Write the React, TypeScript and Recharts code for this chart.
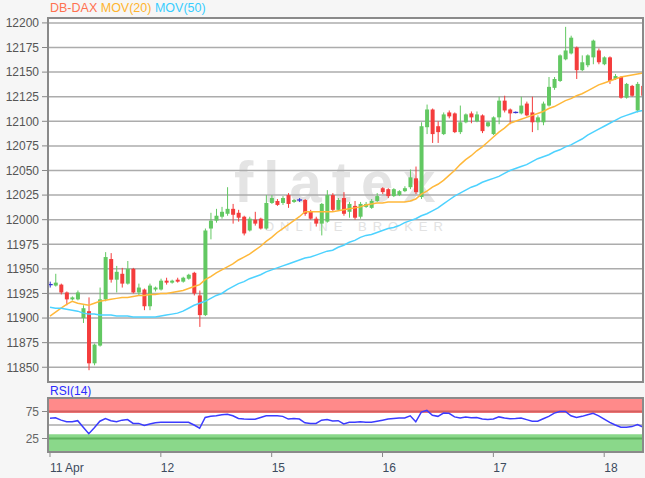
import React from 'react';
import {
  ComposedChart,
  LineChart,
  Bar,
  Line,
  XAxis,
  YAxis,
  CartesianGrid,
  ReferenceArea,
  ReferenceLine,
} from 'recharts';

const openP = [
  11934, 11933, 11934, 11926, 11919, 11919, 11900, 11907, 11854, 11872,
  11919, 11960, 11939, 11945, 11935, 11950, 11926, 11929, 11912, 11929,
  11929, 11938, 11936, 11939, 11937, 11940, 11946, 11923, 11903, 11991,
  11999, 12003, 12006, 12011, 12007, 12003, 11989, 12000, 12001, 11991,
  12017, 12019, 12017, 12025, 12018, 12020, 12020, 12008, 12001, 11996,
  11998, 12025, 12010, 12022, 12008, 12014, 12003, 12013, 12012, 12019,
  12032, 12031, 12024, 12025, 12029, 12033, 12042, 12023, 12094, 12112,
  12095, 12087, 12109, 12108, 12089, 12099, 12108, 12100, 12106, 12095,
  12087, 12104, 12121, 12112, 12109, 12108, 12118, 12109, 12099, 12099,
  12116, 12134, 12141, 12163, 12169, 12175, 12152, 12157, 12165, 12172,
  12158, 12165, 12143, 12145, 12124, 12136, 12111, 12136,
];
const highP = [
  11937, 11945, 11935, 11927, 11922, 11928, 11913, 11921, 11874, 11931,
  11967, 11966, 11953, 11951, 11958, 11951, 11935, 11930, 11935, 11932,
  11940, 11941, 11939, 11941, 11942, 11945, 11947, 11928, 11991, 12007,
  12011, 12013, 12033, 12016, 12010, 12004, 12003, 12008, 12002, 12025,
  12025, 12021, 12024, 12027, 12021, 12022, 12021, 12010, 12003, 12017,
  12030, 12027, 12022, 12028, 12018, 12019, 12018, 12018, 12021, 12027,
  12033, 12032, 12032, 12030, 12034, 12051, 12054, 12099, 12117, 12113,
  12100, 12109, 12111, 12109, 12116, 12108, 12110, 12110, 12107, 12100,
  12105, 12125, 12126, 12113, 12110, 12125, 12120, 12125, 12106, 12120,
  12145, 12145, 12168, 12196, 12187, 12176, 12167, 12168, 12183, 12174,
  12166, 12166, 12148, 12146, 12139, 12137, 12140, 12148,
];
const lowP = [
  11931, 11932, 11924, 11913, 11918, 11918, 11895, 11847, 11852, 11871,
  11917, 11936, 11926, 11931, 11934, 11925, 11923, 11908, 11908, 11927,
  11928, 11934, 11935, 11936, 11936, 11939, 11923, 11891, 11902, 11980,
  11997, 12001, 12004, 11996, 11998, 11984, 11988, 11994, 11990, 11990,
  12016, 12014, 12015, 12012, 12017, 12018, 12004, 12000, 11993, 11984,
  11997, 12008, 12009, 12004, 12002, 12000, 12001, 12012, 12011, 12018,
  12026, 12022, 12023, 12024, 12028, 12031, 12026, 12021, 12087, 12078,
  12078, 12086, 12103, 12088, 12087, 12098, 12098, 12099, 12088, 12094,
  12086, 12097, 12109, 12097, 12108, 12107, 12105, 12089, 12091, 12096,
  12115, 12132, 12140, 12162, 12168, 12143, 12151, 12155, 12158, 12158,
  12157, 12138, 12142, 12123, 12123, 12125, 12109, 12125,
];
const closeP = [
  11934, 11936, 11926, 11919, 11921, 11926, 11910, 11854, 11873, 11919,
  11962, 11939, 11947, 11935, 11950, 11926, 11931, 11912, 11933, 11931,
  11938, 11936, 11938, 11937, 11941, 11944, 11925, 11903, 11989, 11999,
  12004, 12008, 12011, 12005, 12002, 11986, 12001, 11996, 11991, 12017,
  12022, 12015, 12022, 12016, 12020, 12020, 12006, 12001, 11996, 12016,
  12025, 12010, 12020, 12006, 12016, 12002, 12016, 12016, 12019, 12024,
  12028, 12024, 12031, 12029, 12032, 12043, 12028, 12095, 12112, 12087,
  12089, 12107, 12105, 12089, 12099, 12107, 12104, 12107, 12090, 12099,
  12104, 12121, 12111, 12108, 12109, 12116, 12106, 12099, 12104, 12118,
  12135, 12143, 12167, 12172, 12185, 12152, 12160, 12167, 12182, 12160,
  12165, 12141, 12146, 12124, 12138, 12126, 12138, 12126,
];
const ma20 = [
  11902, 11906, 11910, 11914, 11917, 11915, 11914, 11913, 11915, 11917,
  11918, 11919, 11920, 11921, 11921, 11922, 11923, 11923, 11924, 11924,
  11925, 11925, 11926, 11927, 11928, 11930, 11932, 11934, 11939, 11942,
  11946, 11949, 11952, 11955, 11959, 11962, 11965, 11969, 11973, 11978,
  11982, 11987, 11991, 11995, 11999, 12003, 12008, 12008, 12008, 12008,
  12008, 12008, 12009, 12010, 12011, 12012, 12013, 12015, 12016, 12017,
  12017, 12018, 12018, 12018, 12018, 12019, 12021, 12026, 12029, 12033,
  12036, 12040, 12045, 12050, 12056, 12061, 12065, 12070, 12074, 12079,
  12084, 12089, 12093, 12098, 12100, 12102, 12104, 12106, 12108, 12110,
  12113, 12115, 12118, 12121, 12123, 12126, 12128, 12131, 12134, 12137,
  12139, 12141, 12143, 12145, 12146, 12147, 12148, 12149,
];
const ma50 = [
  11911, 11910, 11910, 11909, 11908, 11907, 11905, 11904, 11904, 11903,
  11903, 11903, 11902, 11902, 11902, 11901, 11901, 11901, 11901, 11901,
  11902, 11903, 11904, 11905, 11907, 11910, 11913, 11915, 11917, 11920,
  11923, 11925, 11929, 11932, 11935, 11937, 11940, 11942, 11944, 11947,
  11949, 11951, 11953, 11955, 11957, 11959, 11961, 11962, 11964, 11966,
  11968, 11969, 11972, 11974, 11977, 11979, 11982, 11984, 11985, 11987,
  11989, 11991, 11992, 11994, 11997, 11999, 12001, 12004, 12006, 12009,
  12012, 12016, 12020, 12024, 12027, 12030, 12033, 12035, 12038, 12040,
  12042, 12044, 12047, 12050, 12052, 12054, 12056, 12059, 12062, 12064,
  12066, 12069, 12071, 12074, 12076, 12079, 12082, 12086, 12089, 12092,
  12095, 12098, 12101, 12104, 12106, 12108, 12110, 12111,
];
const rsi14 = [
  62.5, 63.5, 59, 56, 56, 58, 46, 34, 45, 57,
  62, 58, 56, 59, 60, 53, 53, 49, 52, 54,
  55, 55, 55, 55, 55, 55, 50, 44, 64, 66,
  67, 69, 70, 67, 62, 61, 60.5, 60.7, 64, 67,
  67, 67, 66, 61, 62, 61, 54, 53, 53, 59,
  60, 57.5, 58, 52, 55, 55, 56, 55, 55, 57,
  59, 61, 62, 63, 63, 67, 56, 74, 77, 68,
  66, 72, 71.6, 65, 63, 65, 63.5, 64, 61, 60,
  61, 65, 63, 61.5, 62, 63, 60, 57, 57, 61.5,
  66, 72, 75, 75, 67, 64, 66, 69, 71.6, 67,
  61, 55, 50, 46, 46, 47, 51, 46,
];

const dayTicks = [0, 20, 40, 60, 80, 100];
const dayLabels = ['11 Apr', '12', '15', '16', '17', '18'];
const priceTicks = [
  11850, 11875, 11900, 11925, 11950, 11975, 12000, 12025, 12050, 12075,
  12100, 12125, 12150, 12175, 12200,
];
const rsiTicks = [25, 75];

const data = openP.map((o, i) => ({
  i,
  o,
  h: highP[i],
  l: lowP[i],
  c: closeP[i],
  range: [lowP[i], highP[i]],
  ma20: ma20[i],
  ma50: ma50[i],
  rsi: rsi14[i],
}));

const FONT = 'Liberation Sans, Arial, sans-serif';
const X_DOMAIN: [number, number] = [-0.36, 107];

const Candle = (props: any) => {
  const { x, y, width, height, index } = props;
  if (x == null || y == null || height == null) return null;
  const d = props.payload && props.payload.o != null ? props.payload : data[index];
  const top = Math.min(y, y + height);
  const hgt = Math.abs(height);
  const ratio = d.h === d.l ? 0 : hgt / (d.h - d.l);
  const cx = x + width / 2;
  const yO = top + (d.h - d.o) * ratio;
  const yC = top + (d.h - d.c) * ratio;
  const doji = d.o === d.c;
  const color = doji ? '#3232d2' : d.c > d.o ? '#62c862' : '#f43c3c';
  const bTop = Math.min(yO, yC);
  const bH = Math.max(Math.abs(yO - yC), 1);
  return (
    <g>
      <line x1={cx} x2={cx} y1={top} y2={top + hgt} stroke={color} strokeWidth={1} />
      {doji ? (
        <line x1={x - 0.5} x2={x + width + 0.5} y1={yO} y2={yO} stroke={color} strokeWidth={1.3} />
      ) : (
        <rect x={x} y={bTop} width={width} height={bH} fill={color} />
      )}
    </g>
  );
};

const XTick = (props: any) => {
  const { x, y, payload } = props;
  const idx = dayTicks.indexOf(payload.value);
  return (
    <text x={x} y={y} dy={13} textAnchor="start" fill="#3c4b5e" fontSize={12} fontFamily={FONT}>
      {idx >= 0 ? dayLabels[idx] : ''}
    </text>
  );
};

export default function App() {
  return (
    <div style={{ position: 'absolute', left: 0, top: 0, width: 645, height: 478, background: '#f6f6f6', overflow: 'hidden', fontFamily: FONT }}>
      {/* panel backgrounds */}
      <div style={{ position: 'absolute', left: 48, top: 18, width: 595, height: 364, background: '#ffffff' }} />
      <div style={{ position: 'absolute', left: 48, top: 398, width: 595, height: 54, background: '#ffffff' }} />
      {/* watermark */}
      <div style={{ position: 'absolute', left: 234, top: 149, fontSize: 58, fontWeight: 700, letterSpacing: 10, color: '#e4e4e4', fontFamily: FONT, lineHeight: '66px', whiteSpace: 'nowrap' }}>flatex</div>
      <div style={{ position: 'absolute', left: 264, top: 219, fontSize: 13, letterSpacing: 6, color: '#e2e2e2', fontFamily: FONT, lineHeight: '15px', whiteSpace: 'nowrap' }}>ONLINE BROKER</div>

      {/* legend */}
      <div style={{ position: 'absolute', left: 50, top: 1, fontSize: 12.5, lineHeight: '14px', whiteSpace: 'nowrap', fontFamily: FONT }}>
        <span style={{ color: '#ff7150' }}>DB-DAX</span>{' '}
        <span style={{ color: '#ffb42e' }}>MOV(20)</span>{' '}
        <span style={{ color: '#38cdff' }}>MOV(50)</span>
      </div>
      <div style={{ position: 'absolute', left: 50, top: 384, fontSize: 12, lineHeight: '14px', color: '#2b2bff', fontFamily: FONT }}>RSI(14)</div>

      <div style={{ position: 'absolute', left: 0, top: 0 }}>
        <ComposedChart width={645} height={390} data={data} margin={{ top: 18, right: 2, bottom: 8, left: 0 }}>
          <CartesianGrid vertical={false} stroke="#acacac" strokeWidth={1.5} />
          <XAxis type="number" dataKey="i" domain={X_DOMAIN} ticks={dayTicks} hide allowDataOverflow />
          <YAxis
            type="number"
            domain={[11835, 12205]}
            ticks={priceTicks}
            width={48}
            interval={0}
            allowDataOverflow
            axisLine={false}
            tickLine={{ stroke: '#888888' }}
            tickSize={6}
            tickMargin={3}
            tick={{ fill: '#555555', fontSize: 12, fontFamily: FONT }}
          />
          <Bar dataKey="range" barSize={4} shape={(p: any) => <Candle {...p} />} isAnimationActive={false} />
          <Line type="linear" dataKey="ma20" stroke="#ffb83a" strokeWidth={1.5} dot={false} activeDot={false} isAnimationActive={false} />
          <Line type="linear" dataKey="ma50" stroke="#4dd2ff" strokeWidth={1.5} dot={false} activeDot={false} isAnimationActive={false} />
        </ComposedChart>
      </div>

      <div style={{ position: 'absolute', left: 0, top: 390 }}>
        <LineChart width={645} height={88} data={data} margin={{ top: 8, right: 2, bottom: 0, left: 0 }}>
          <XAxis
            type="number"
            dataKey="i"
            domain={X_DOMAIN}
            ticks={dayTicks}
            interval={0}
            height={26}
            allowDataOverflow
            axisLine={false}
            tickLine={{ stroke: '#888888' }}
            tickSize={5}
            tick={<XTick />}
          />
          <YAxis
            type="number"
            domain={[0, 100]}
            ticks={rsiTicks}
            width={48}
            interval={0}
            axisLine={false}
            tickLine={{ stroke: '#888888' }}
            tickSize={6}
            tickMargin={3}
            tick={{ fill: '#666666', fontSize: 12, fontFamily: FONT }}
          />
          <ReferenceArea y1={72} y2={100} fill="#ff8a8a" fillOpacity={1} stroke="none" />
          <ReferenceArea y1={0} y2={33} fill="#8ad88a" fillOpacity={1} stroke="none" />
          <ReferenceLine y={75} stroke="#d45f5f" strokeWidth={2} />
          <ReferenceLine y={25} stroke="#5fb35f" strokeWidth={2} />
          <ReferenceLine y={50} stroke="#ababab" strokeWidth={1.5} />
          <Line type="linear" dataKey="rsi" stroke="#3b3bff" strokeWidth={1.5} dot={false} activeDot={false} isAnimationActive={false} />
        </LineChart>
      </div>

      {/* panel borders */}
      <div style={{ position: 'absolute', left: 47, top: 17, width: 597, height: 366, border: '2px solid #8a8a8a', boxSizing: 'border-box', pointerEvents: 'none' }} />
      <div style={{ position: 'absolute', left: 47, top: 397, width: 597, height: 56, border: '2px solid #8a8a8a', boxSizing: 'border-box', pointerEvents: 'none' }} />
    </div>
  );
}
